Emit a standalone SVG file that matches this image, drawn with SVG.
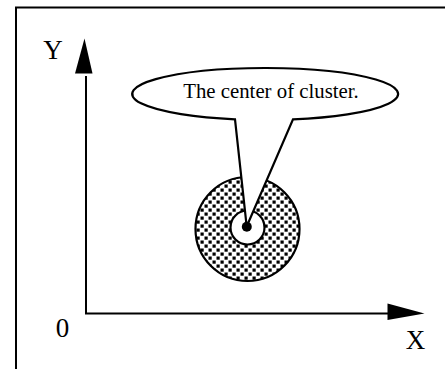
<svg xmlns="http://www.w3.org/2000/svg" width="445" height="369" viewBox="0 0 445 369">
  <style>
    .ln { stroke: #000; stroke-width: 2; fill: none; }
    .lbl { font-family: "Liberation Serif", "Times New Roman", serif; fill: #000; }
  </style>
  <defs>
    <pattern id="dots" x="0" y="0" width="8" height="8" patternUnits="userSpaceOnUse">
      <rect width="8" height="8" fill="#fff"/>
      <rect x="0.5" y="0.5" width="3.2" height="3.2" fill="#000"/>
      <rect x="4.5" y="4.5" width="3.2" height="3.2" fill="#000"/>
    </pattern>
  </defs>
  <rect width="445" height="369" fill="#fff"/>
  <g id="frame">
    <path class="ln" d="M16,369 V7.5 H445"/>
  </g>
  <g id="connectors">
    <path class="ln" d="M86,76 V313.5 H388"/>
    <polygon points="84.5,38.5 75,73.5 92.5,73.5" fill="#000"/>
    <polygon points="424.5,313.5 387.5,303.5 387.5,320" fill="#000"/>
  </g>
  <g id="axis-labels">
    <text class="lbl" x="53" y="59" font-size="27" text-anchor="middle">Y</text>
    <text class="lbl" x="62.5" y="337" font-size="27" text-anchor="middle">0</text>
    <text class="lbl" x="415.5" y="349" font-size="27" text-anchor="middle">X</text>
  </g>
  <g id="cluster">
    <circle cx="247.5" cy="229" r="52" fill="url(#dots)" stroke="#000" stroke-width="2.2"/>
    <circle cx="247.5" cy="227.5" r="17" fill="#fff" stroke="#000" stroke-width="2.2"/>
  </g>
  <g id="callout">
    <path d="M293,119.4 A133,26 0 1 0 235,119.3 L246.7,226.5 Z" fill="#fff" stroke="#000" stroke-width="2.2" stroke-linejoin="miter"/>
    <text class="lbl" x="271" y="98" font-size="20.8" text-anchor="middle">The center of cluster.</text>
  </g>
  <g id="center-dot">
    <circle cx="246.8" cy="226.7" r="5" fill="#000"/>
  </g>
</svg>
